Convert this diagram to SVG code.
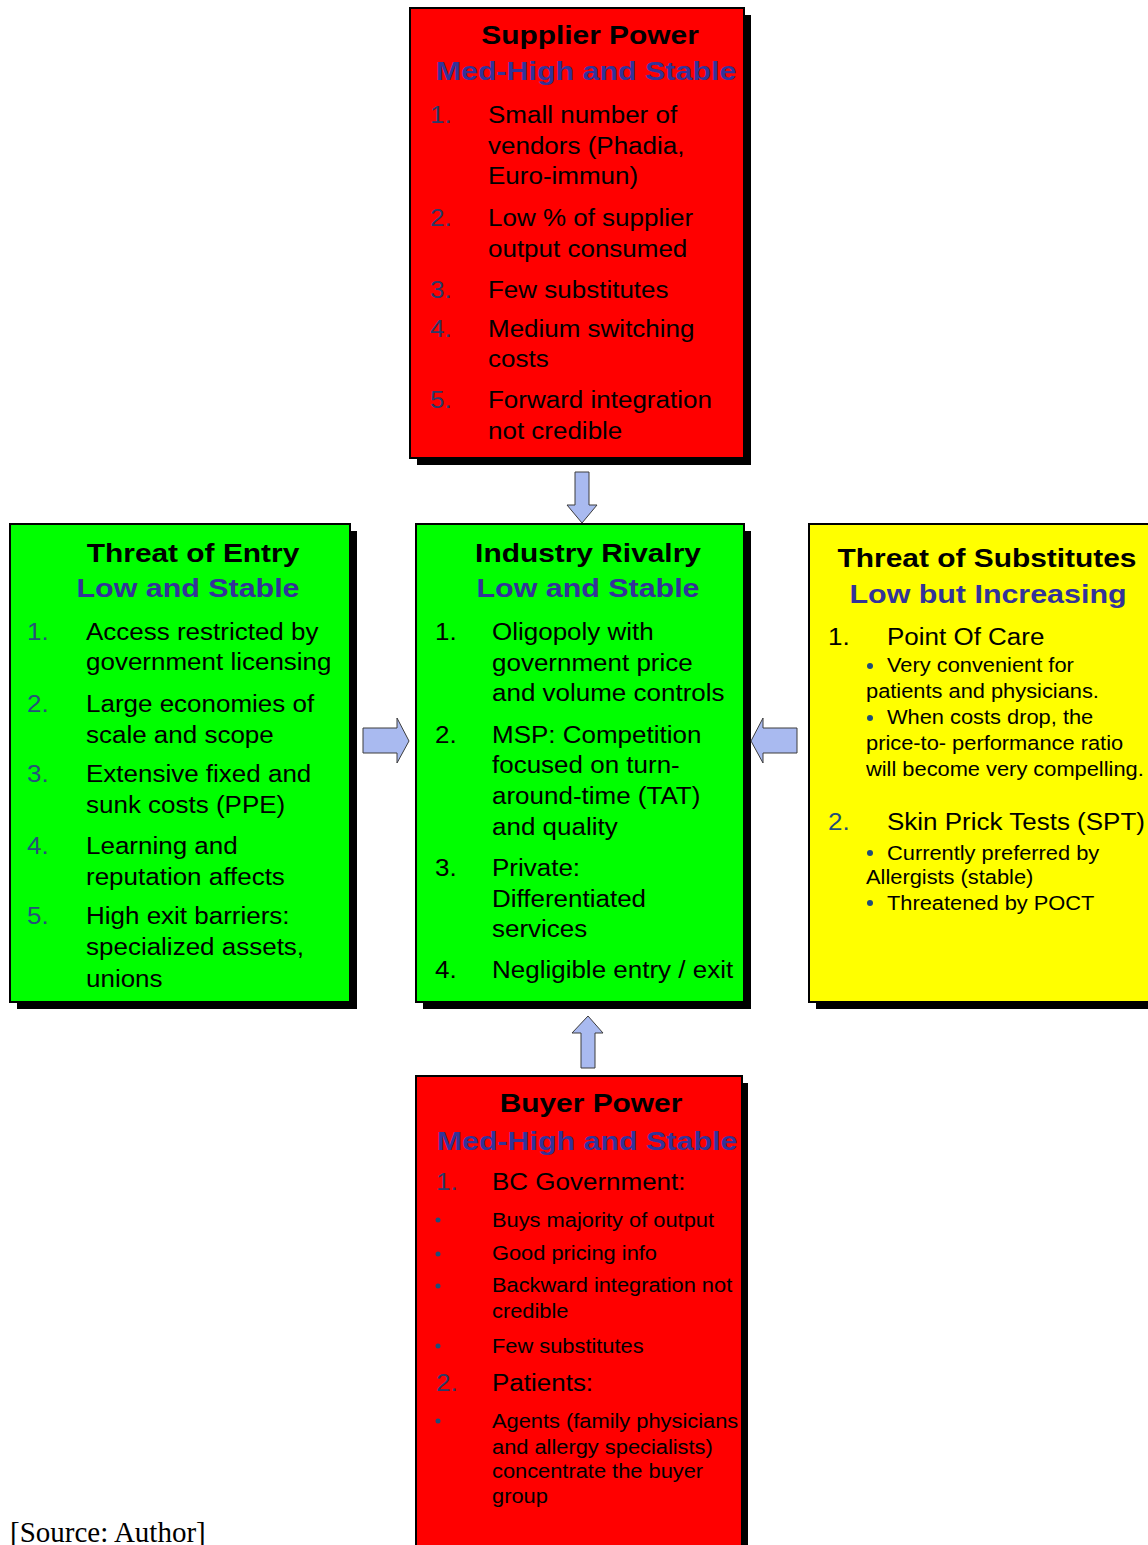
<svg xmlns="http://www.w3.org/2000/svg" width="1148" height="1545" viewBox="0 0 1148 1545">
  <style>
    text { font-family: "Liberation Sans", Arial, sans-serif; }
    .t { font-size: 26px; font-weight: bold; fill: #000; text-anchor: middle; }
    .s { font-size: 26px; font-weight: bold; fill: #333399; text-anchor: middle; }
    .b { font-size: 23px; fill: #000; }
    .m { font-size: 19.5px; fill: #000; }
    .nr { fill: #2B3A67; }
    .ng { fill: #27507A; }
    .nb { fill: #1F4E79; }
    .box { stroke: #000; stroke-width: 2; }
    .shadow { fill: #000; }
    .red { fill: #FF0000; }
    .green { fill: #00FF00; }
    .yellow { fill: #FFFF00; }
    .arrow { fill: #A9BAF0; stroke: #3C3C3C; stroke-width: 1; }
    .dot { fill: #1F4E79; }
    .src { font-family: "Liberation Serif", "Times New Roman", serif; font-size: 29px; fill: #000; }
  </style>

  <rect width="1148" height="1545" fill="#FFFFFF"/>

  <!-- Supplier Power -->
  <g id="supplier-power">
    <rect class="shadow" x="417" y="15" width="334" height="450"/>
    <rect class="box red" x="410" y="8" width="334" height="450"/>
    <text class="t" transform="translate(590 44) scale(1.15 1)">Supplier Power</text>
    <text class="s" transform="translate(586 80) scale(1.17 1)">Med-High and Stable</text>
    <text class="b nr" transform="translate(430 123) scale(1.13 1)">1.</text>
    <text class="b" transform="translate(488 123) scale(1.13 1)">Small number of</text>
    <text class="b" transform="translate(488 154) scale(1.13 1)">vendors (Phadia,</text>
    <text class="b" transform="translate(488 184) scale(1.13 1)">Euro-immun)</text>
    <text class="b nr" transform="translate(430 226) scale(1.13 1)">2.</text>
    <text class="b" transform="translate(488 226) scale(1.13 1)">Low % of supplier</text>
    <text class="b" transform="translate(488 257) scale(1.13 1)">output consumed</text>
    <text class="b nr" transform="translate(430 298) scale(1.13 1)">3.</text>
    <text class="b" transform="translate(488 298) scale(1.13 1)">Few substitutes</text>
    <text class="b nr" transform="translate(430 337) scale(1.13 1)">4.</text>
    <text class="b" transform="translate(488 337) scale(1.13 1)">Medium switching</text>
    <text class="b" transform="translate(488 367) scale(1.13 1)">costs</text>
    <text class="b nr" transform="translate(430 408) scale(1.13 1)">5.</text>
    <text class="b" transform="translate(488 408) scale(1.13 1)">Forward integration</text>
    <text class="b" transform="translate(488 439) scale(1.13 1)">not credible</text>
  </g>

  <!-- Threat of Entry -->
  <g id="threat-of-entry">
    <rect class="shadow" x="17" y="531" width="340" height="478"/>
    <rect class="box green" x="10" y="524" width="340" height="478"/>
    <text class="t" transform="translate(193 562) scale(1.15 1)">Threat of Entry</text>
    <text class="s" transform="translate(188 597) scale(1.17 1)">Low and Stable</text>
    <text class="b ng" transform="translate(27 640) scale(1.13 1)">1.</text>
    <text class="b" transform="translate(86 640) scale(1.13 1)">Access restricted by</text>
    <text class="b" transform="translate(86 670) scale(1.13 1)">government licensing</text>
    <text class="b ng" transform="translate(27 712) scale(1.13 1)">2.</text>
    <text class="b" transform="translate(86 712) scale(1.13 1)">Large economies of</text>
    <text class="b" transform="translate(86 743) scale(1.13 1)">scale and scope</text>
    <text class="b ng" transform="translate(27 782) scale(1.13 1)">3.</text>
    <text class="b" transform="translate(86 782) scale(1.13 1)">Extensive fixed and</text>
    <text class="b" transform="translate(86 813) scale(1.13 1)">sunk costs (PPE)</text>
    <text class="b ng" transform="translate(27 854) scale(1.13 1)">4.</text>
    <text class="b" transform="translate(86 854) scale(1.13 1)">Learning and</text>
    <text class="b" transform="translate(86 885) scale(1.13 1)">reputation affects</text>
    <text class="b ng" transform="translate(27 924) scale(1.13 1)">5.</text>
    <text class="b" transform="translate(86 924) scale(1.13 1)">High exit barriers:</text>
    <text class="b" transform="translate(86 955) scale(1.13 1)">specialized assets,</text>
    <text class="b" transform="translate(86 987) scale(1.13 1)">unions</text>
  </g>

  <!-- Industry Rivalry -->
  <g id="industry-rivalry">
    <rect class="shadow" x="423" y="531" width="328" height="478"/>
    <rect class="box green" x="416" y="524" width="328" height="478"/>
    <text class="t" transform="translate(588 562) scale(1.15 1)">Industry Rivalry</text>
    <text class="s" transform="translate(588 597) scale(1.17 1)">Low and Stable</text>
    <text class="b" transform="translate(435 640) scale(1.13 1)">1.</text>
    <text class="b" transform="translate(492 640) scale(1.13 1)">Oligopoly with</text>
    <text class="b" transform="translate(492 671) scale(1.13 1)">government price</text>
    <text class="b" transform="translate(492 701) scale(1.13 1)">and volume controls</text>
    <text class="b" transform="translate(435 743) scale(1.13 1)">2.</text>
    <text class="b" transform="translate(492 743) scale(1.13 1)">MSP: Competition</text>
    <text class="b" transform="translate(492 773) scale(1.13 1)">focused on turn-</text>
    <text class="b" transform="translate(492 804) scale(1.13 1)">around-time (TAT)</text>
    <text class="b" transform="translate(492 835) scale(1.13 1)">and quality</text>
    <text class="b" transform="translate(435 876) scale(1.13 1)">3.</text>
    <text class="b" transform="translate(492 876) scale(1.13 1)">Private:</text>
    <text class="b" transform="translate(492 907) scale(1.13 1)">Differentiated</text>
    <text class="b" transform="translate(492 937) scale(1.13 1)">services</text>
    <text class="b" transform="translate(435 978) scale(1.13 1)">4.</text>
    <text class="b" transform="translate(492 978) scale(1.13 1)">Negligible entry / exit</text>
  </g>

  <!-- Threat of Substitutes -->
  <g id="threat-of-substitutes">
    <rect class="shadow" x="816" y="531" width="340" height="478"/>
    <rect class="box yellow" x="809" y="524" width="345" height="478"/>
    <text class="t" transform="translate(987 567) scale(1.15 1)">Threat of Substitutes</text>
    <text class="s" transform="translate(988 603) scale(1.17 1)">Low but Increasing</text>
    <text class="b" transform="translate(828 645) scale(1.13 1)">1.</text>
    <text class="b" transform="translate(887 645) scale(1.13 1)">Point Of Care</text>
    <circle class="dot" cx="870" cy="666" r="3"/>
    <text class="m" transform="translate(887 672) scale(1.12 1)">Very convenient for</text>
    <text class="m" transform="translate(866 698) scale(1.12 1)">patients and physicians.</text>
    <circle class="dot" cx="870" cy="718" r="3"/>
    <text class="m" transform="translate(887 724) scale(1.12 1)">When costs drop, the</text>
    <text class="m" transform="translate(866 750) scale(1.12 1)">price-to- performance ratio</text>
    <text class="m" transform="translate(866 776) scale(1.12 1)">will become very compelling.</text>
    <text class="b nb" transform="translate(828 830) scale(1.13 1)">2.</text>
    <text class="b" transform="translate(887 830) scale(1.13 1)">Skin Prick Tests (SPT)</text>
    <circle class="dot" cx="870" cy="853" r="3"/>
    <text class="m" transform="translate(887 860) scale(1.12 1)">Currently preferred by</text>
    <text class="m" transform="translate(866 884) scale(1.12 1)">Allergists (stable)</text>
    <circle class="dot" cx="870" cy="903" r="3"/>
    <text class="m" transform="translate(887 910) scale(1.12 1)">Threatened by POCT</text>
  </g>

  <!-- Buyer Power -->
  <g id="buyer-power">
    <rect class="shadow" x="423" y="1083" width="325" height="480"/>
    <rect class="box red" x="416" y="1076" width="326" height="480"/>
    <text class="t" transform="translate(591 1112) scale(1.15 1)">Buyer Power</text>
    <text class="s" transform="translate(587 1150) scale(1.17 1)">Med-High and Stable</text>
    <text class="b nr" transform="translate(436 1190) scale(1.13 1)">1.</text>
    <text class="b" transform="translate(492 1190) scale(1.13 1)">BC Government:</text>
    <circle class="dot" cx="438" cy="1220" r="2.5"/>
    <text class="m" transform="translate(492 1227) scale(1.12 1)">Buys majority of output</text>
    <circle class="dot" cx="438" cy="1254" r="2.5"/>
    <text class="m" transform="translate(492 1260) scale(1.12 1)">Good pricing info</text>
    <circle class="dot" cx="438" cy="1286" r="2.5"/>
    <text class="m" transform="translate(492 1292) scale(1.12 1)">Backward integration not</text>
    <text class="m" transform="translate(492 1318) scale(1.12 1)">credible</text>
    <circle class="dot" cx="438" cy="1346" r="2.5"/>
    <text class="m" transform="translate(492 1353) scale(1.12 1)">Few substitutes</text>
    <text class="b nr" transform="translate(436 1391) scale(1.13 1)">2.</text>
    <text class="b" transform="translate(492 1391) scale(1.13 1)">Patients:</text>
    <circle class="dot" cx="438" cy="1421" r="2.5"/>
    <text class="m" transform="translate(492 1428) scale(1.12 1)">Agents (family physicians</text>
    <text class="m" transform="translate(492 1454) scale(1.12 1)">and allergy specialists)</text>
    <text class="m" transform="translate(492 1478) scale(1.12 1)">concentrate the buyer</text>
    <text class="m" transform="translate(492 1503) scale(1.12 1)">group</text>
  </g>

  <!-- Block arrows pointing into the rivalry box -->
  <g id="connectors">
    <polygon class="arrow" points="575,472 589,472 589,505 597,505 582,523 567,505 575,505"/>
    <polygon class="arrow" points="363,728 397,728 397,718 409,741 397,763 397,753 363,753"/>
    <polygon class="arrow" points="797,728 763,728 763,718 751,741 763,763 763,753 797,753"/>
    <polygon class="arrow" points="581,1068 595,1068 595,1033 603,1033 588,1016 572,1033 581,1033"/>
  </g>

  <text class="src" x="10" y="1542">[Source: Author]</text>
</svg>
